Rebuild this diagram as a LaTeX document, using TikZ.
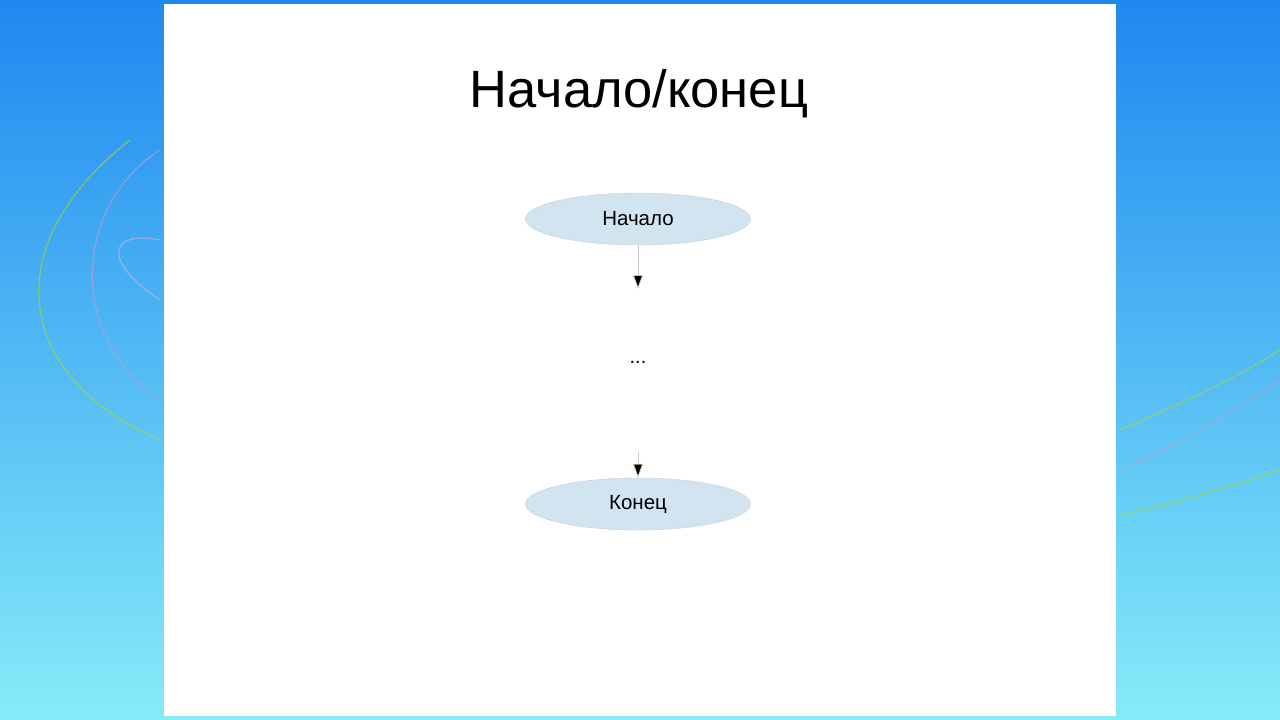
\documentclass[tikz,border=0pt]{standalone}
\usepackage{fontspec}
\setmainfont{Liberation Sans}
\usetikzlibrary{shapes.geometric,arrows.meta}
\definecolor{ellfill}{HTML}{D3E4F1}
\definecolor{bgtop}{HTML}{1E88F0}
\definecolor{bgbot}{HTML}{86ECF8}
\tikzset{
  term/.style={ellipse, fill=ellfill, draw=ellfill!80!gray, minimum width=225pt, minimum height=52pt, inner sep=0pt, font=\fontsize{20.5pt}{24pt}\selectfont},
  flow/.style={draw=gray!40, line width=0.8pt, -{Triangle[length=14pt,width=10pt,fill=black]}},
  deco/.style={line width=1.2pt, opacity=0.6}
}
\begin{document}
\begin{tikzpicture}[x=1pt,y=-1pt]
\useasboundingbox (0,0) rectangle (1280,720);
\shade[top color=bgtop, bottom color=bgbot] (0,0) rectangle (1280,720);
\draw[deco, yellow!70!green] (160,440) .. controls (20,380) and (-10,250) .. (130,140);
\draw[deco, violet!40] (160,400) .. controls (60,330) and (80,200) .. (160,150);
\draw[deco, violet!30] (160,300) .. controls (100,260) and (110,230) .. (160,240);
\draw[deco, yellow!70!green] (1120,515) .. controls (1190,500) and (1250,480) .. (1280,470);
\draw[deco, violet!40] (1120,470) .. controls (1190,440) and (1250,400) .. (1280,380);
\draw[deco, yellow!70!green] (1120,430) .. controls (1190,400) and (1250,370) .. (1280,350);
\fill[white] (164,4) rectangle (1116,716);
\node (title) at (639,94) {\fontsize{52.5pt}{60pt}\selectfont Начало/конец};
\node[term] (start) at (638,219) {Начало};
\node (dots) at (638,362) {\fontsize{20pt}{22pt}\selectfont ...};
\coordinate (a1) at (638,289);
\coordinate (a2) at (638,452);
\node[term] (end) at (638,504) {Конец};
\draw[flow] (start) -- (a1);
\draw[flow] (a2) -- (end);
\end{tikzpicture}
\end{document}
